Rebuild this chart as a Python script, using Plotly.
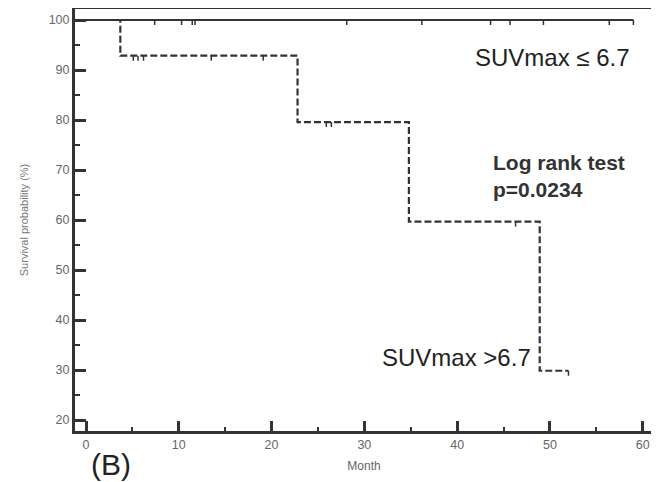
import plotly.graph_objects as go

# ---- data ----
# Group 1: SUVmax <= 6.7 (no events, survival stays at 100%)
g1_start = 0.0
g1_end = 59.0
g1_surv = 100.0
g1_censor = [7.4, 10.3, 11.45, 11.75, 28.1, 36.2, 43.6, 45.7, 49.3, 56.4, 59.0]

# Group 2: SUVmax > 6.7 (step curve)
g2_times = [0.0, 3.7, 22.8, 34.8, 48.9]
g2_surv = [100.0, 92.86, 79.59, 59.69, 29.85]
g2_end = 52.0
g2_censor_t = [5.1, 5.6, 6.2, 13.5, 19.1, 25.9, 26.45, 46.3, 52.0]
g2_censor_s = [92.86, 92.86, 92.86, 92.86, 92.86, 79.59, 79.59, 59.69, 29.85]

x_ticks = [0, 10, 20, 30, 40, 50, 60]
y_ticks = [20, 30, 40, 50, 60, 70, 80, 90, 100]

DARK = "#333333"
TICK_LEN_Y = 1.0  # censor mark length in survival units


def censor_segments(ts, ss):
    xs, ys = [], []
    for t, s in zip(ts, ss):
        xs += [t, t, None]
        ys += [s, s - TICK_LEN_Y, None]
    return xs, ys


fig = go.Figure()

# group 1 solid line
fig.add_trace(go.Scatter(x=[g1_start, g1_end], y=[g1_surv, g1_surv], mode="lines",
                         line=dict(color=DARK, width=2), showlegend=False, hoverinfo="skip"))
cx, cy = censor_segments(g1_censor, [g1_surv] * len(g1_censor))
fig.add_trace(go.Scatter(x=cx, y=cy, mode="lines", line=dict(color=DARK, width=1.5),
                         showlegend=False, hoverinfo="skip"))

# group 2 dashed step line
sx = g2_times + [g2_end]
sy = g2_surv + [g2_surv[-1]]
fig.add_trace(go.Scatter(x=sx, y=sy, mode="lines", line=dict(color=DARK, width=2.2, dash="7px,3px", shape="hv"),
                         showlegend=False, hoverinfo="skip"))
cx2, cy2 = censor_segments(g2_censor_t, g2_censor_s)
fig.add_trace(go.Scatter(x=cx2, y=cy2, mode="lines", line=dict(color=DARK, width=1.5),
                         showlegend=False, hoverinfo="skip"))

narrow = "Liberation Sans Narrow, Arial Narrow, Liberation Sans, Arial"

fig.add_annotation(x=58.85, y=92.6, xref="x", yref="y", text="SUVmax ≤ 6.7", showarrow=False,
                   xanchor="right", yanchor="middle", font=dict(family=narrow, size=24, color="#222"))
fig.add_annotation(x=48.2, y=32.6, xref="x", yref="y", text="SUVmax >6.7", showarrow=False,
                   xanchor="right", yanchor="middle", font=dict(family=narrow, size=24, color="#222"))
fig.add_annotation(x=43.7, y=68.8, xref="x", yref="y", text="<b>Log rank test</b><br><b>p=0.0234</b>",
                   showarrow=False, xanchor="left", yanchor="middle", align="left",
                   font=dict(family="Liberation Sans, Arial", size=21, color="#333"))
fig.add_annotation(x=0.3, y=-0.08, xref="x", yref="paper", text="(B)", showarrow=False,
                   xanchor="left", yanchor="middle",
                   font=dict(family="Liberation Sans, Arial", size=30, color="#222"))

axis_common = dict(showline=True, mirror=True, linewidth=3, linecolor=DARK, automargin=False,
                   showgrid=False, zeroline=False, ticks="inside", tickwidth=3, tickcolor=DARK,
                   tickfont=dict(family="Liberation Sans, Arial", size=12.5, color="#666"))

fig.update_xaxes(range=[-1.186, 61.11], tickvals=x_ticks, ticklen=10,
                 minor=dict(ticks="inside", ticklen=4, tickwidth=2, dtick=5, tick0=0, tickcolor=DARK),
                 title=dict(text="Month", font=dict(family="Liberation Sans, Arial", size=12, color="#666"),
                            standoff=11),
                 **axis_common)
fig.update_yaxes(range=[17.8, 102.2], tickvals=y_ticks, ticklen=11,
                 minor=dict(ticks="inside", ticklen=5, tickwidth=2, dtick=5, tick0=0, tickcolor=DARK),
                 title=dict(text="Survival probability (%)",
                            font=dict(family="Liberation Sans, Arial", size=11, color="#777"),
                            standoff=18),
                 ticklabelstandoff=0,
                 **axis_common)

# figure sized to account for the page's 8px body margin
fig.update_layout(width=651, height=474, margin=dict(l=67, r=6, t=1, b=51),
                  plot_bgcolor="white", paper_bgcolor="white")

fig.write_html("out.html")
